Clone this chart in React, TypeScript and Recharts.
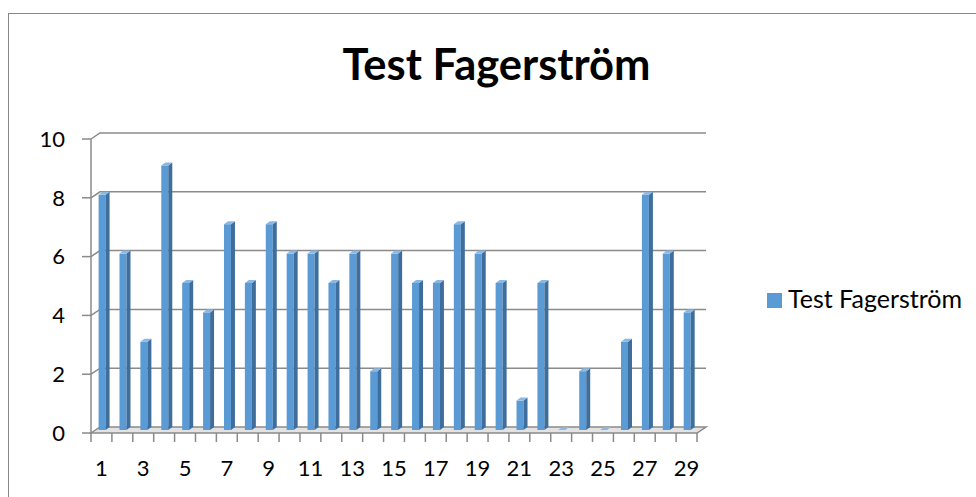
import { Bar, BarChart, CartesianGrid, XAxis, YAxis } from 'recharts';

const categories = Array.from({ length: 29 }, (_, i) => String(i + 1));
const scores = [8, 6, 3, 9, 5, 4, 7, 5, 7, 6, 6, 5, 6, 2, 6, 5, 5, 7, 6, 5, 1, 5, 0, 2, 0, 3, 8, 6, 4];
const yTicks = [0, 2, 4, 6, 8, 10];
const seriesName = 'Test Fagerström';

const data = categories.map((c, i) => ({ name: c, score: scores[i] }));

const FONT = 'Lato, "Open Sans", sans-serif';
const GRID = '#8a8a8a';
const BAND = (697 - 91) / 29;
// fake 3d depth of the back wall
const DX = 9;
const DY = -6;

// gridlines sit on the back wall, value 0 line becomes the floor
const GridLine = (props: any) => {
  const { x1, x2, y1, index } = props;
  if (y1 >= 432) {
    return (
      <g key={`g-${index}`}>
        <polygon
          points={`${x1},${y1} ${x1 + DX},${y1 + DY} ${x2 + DX},${y1 + DY} ${x2},${y1}`}
          fill="#e3e3e3"
          stroke={GRID}
          strokeWidth={1.5}
        />
      </g>
    );
  }
  return (
    <polyline
      key={`g-${index}`}
      points={`${x1},${y1} ${x1 + DX},${y1 + DY} ${x2 + DX},${y1 + DY}`}
      fill="none"
      stroke={GRID}
      strokeWidth={1.5}
    />
  );
};

const Bar3D = (props: any) => {
  const { x, y, width, height } = props;
  const cx = x + width / 2;
  const base = y + height - 3;
  const top = y - 3;
  const l = cx - 3;
  const r = cx + 4;
  const d = 4;
  return (
    <g>
      {height > 0 && (
        <>
          <rect x={l} y={top} width={r - l} height={base - top} fill="#5b9bd5" />
          <polygon points={`${r},${top} ${r + d},${top - 3} ${r + d},${base - 3} ${r},${base}`} fill="#3f6e9c" />
        </>
      )}
      <polygon points={`${l},${top} ${r},${top} ${r + d},${top - 3} ${l + d},${top - 3}`} fill="#8ab8e4" />
    </g>
  );
};

const XTick = (props: any) => {
  const { x, y, payload, index } = props;
  const i = payload?.index ?? index;
  const last = i === categories.length - 1;
  return (
    <g>
      <line x1={x - BAND / 2} x2={x - BAND / 2} y1={y} y2={y + 9} stroke={GRID} strokeWidth={1.5} />
      {last && <line x1={x + BAND / 2} x2={x + BAND / 2} y1={y} y2={y + 9} stroke={GRID} strokeWidth={1.5} />}
      {i % 2 === 0 && (
        <text x={x} y={y + 43} textAnchor="middle" fontFamily={FONT} fontSize={22} fill="#000">
          {payload.value}
        </text>
      )}
    </g>
  );
};

export default function App() {
  return (
    <div style={{ position: 'absolute', left: 0, top: 0, width: 976, height: 497, overflow: 'hidden', background: '#fff' }}>
      <div
        style={{
          position: 'absolute',
          left: 8,
          top: 13,
          width: 1000,
          height: 520,
          border: '1px solid #868686',
          boxSizing: 'border-box',
        }}
      />
      <div
        style={{
          position: 'absolute',
          left: 0,
          width: 993,
          top: 41.5,
          textAlign: 'center',
          fontFamily: FONT,
          fontWeight: 700,
          fontSize: 43.5,
          lineHeight: '43.5px',
          whiteSpace: 'nowrap',
        }}
      >
        {seriesName}
      </div>
      <div style={{ position: 'absolute', left: 0, top: 0 }}>
        <BarChart width={976} height={497} data={data} margin={{ top: 139, right: 279, bottom: 34, left: 0 }}>
          <CartesianGrid vertical={false} horizontal={GridLine} />
          <XAxis
            dataKey="name"
            interval={0}
            height={30}
            axisLine={false}
            tickLine={false}
            tickSize={0}
            tickMargin={0}
            tick={XTick}
          />
          <YAxis
            domain={[0, 10]}
            ticks={yTicks}
            width={91}
            axisLine={{ stroke: GRID, strokeWidth: 1.5 }}
            tickLine={{ stroke: GRID, strokeWidth: 1.5 }}
            tickSize={9}
            tickMargin={17}
            tick={{ fill: '#000', fontFamily: FONT, fontSize: 22 }}
          />
          <Bar dataKey="score" name={seriesName} shape={Bar3D} isAnimationActive={false} />
        </BarChart>
      </div>
      <div
        style={{
          position: 'absolute',
          left: 767,
          top: 285.8,
          display: 'flex',
          alignItems: 'flex-start',
          fontFamily: FONT,
          fontSize: 25,
          lineHeight: '25px',
          whiteSpace: 'nowrap',
        }}
      >
        <span style={{ display: 'inline-block', width: 15, height: 15, background: '#5b9bd5', marginTop: 7.5, marginRight: 6 }} />
        <span>{seriesName}</span>
      </div>
    </div>
  );
}
